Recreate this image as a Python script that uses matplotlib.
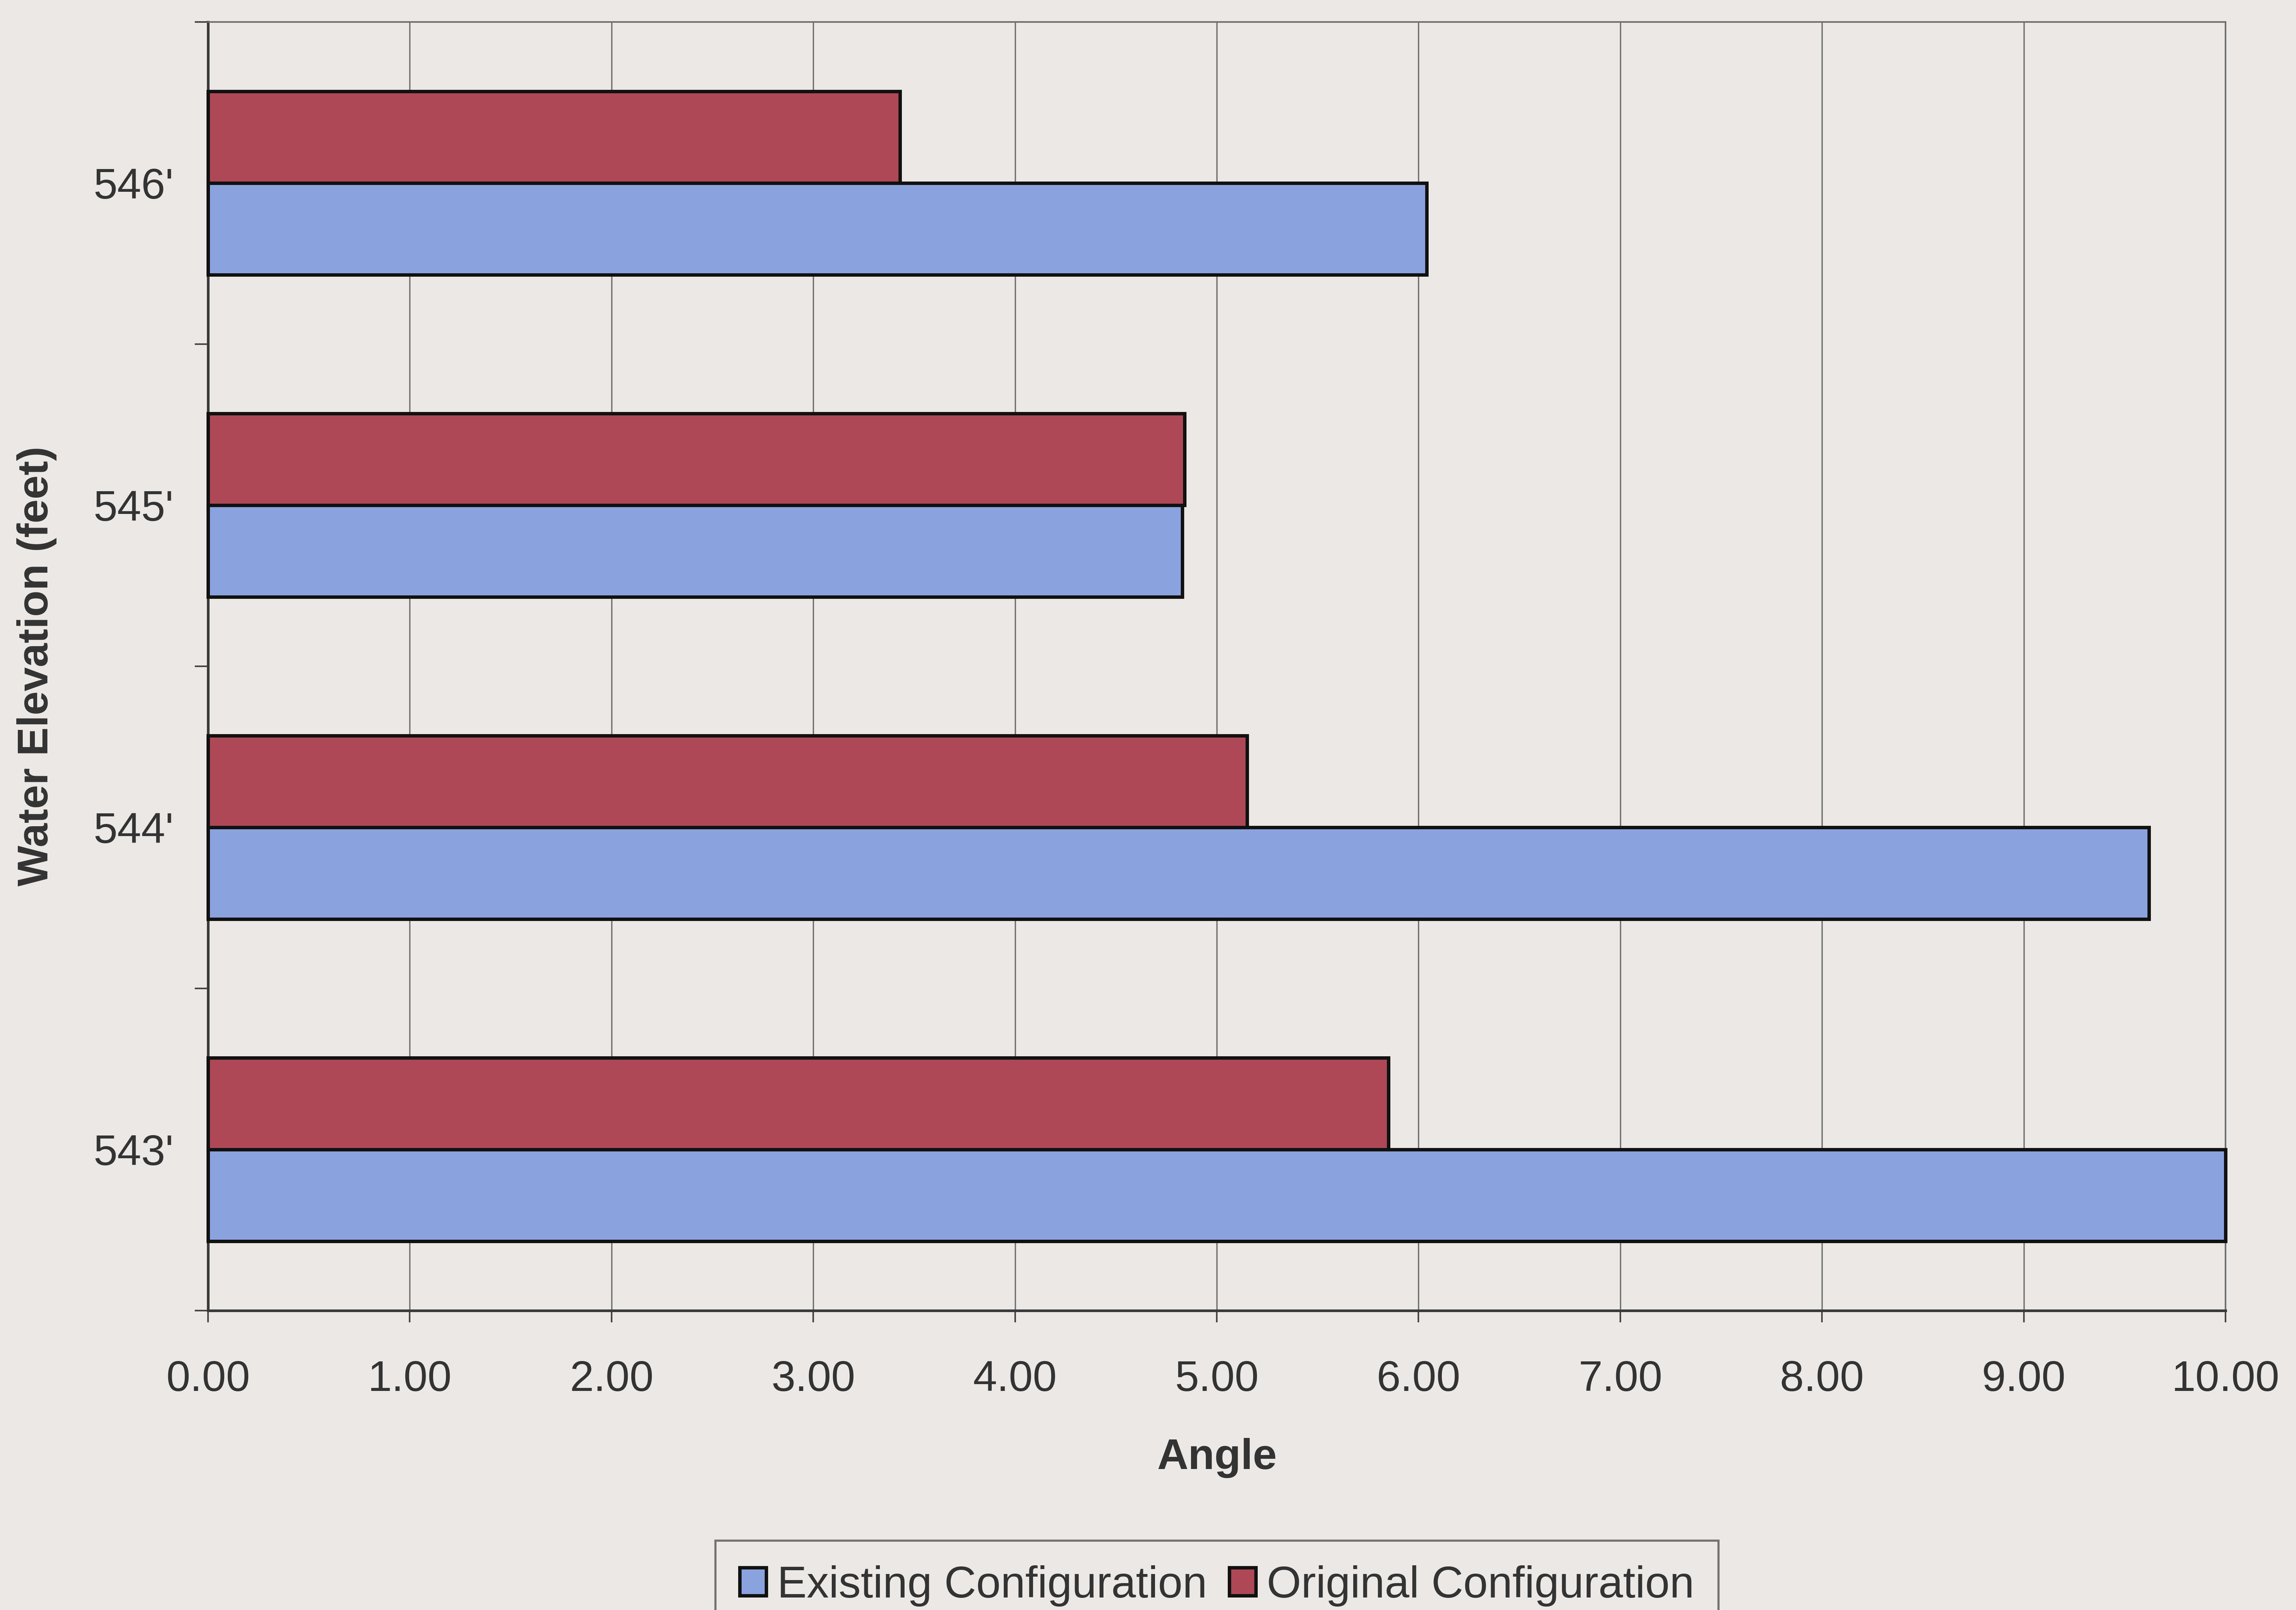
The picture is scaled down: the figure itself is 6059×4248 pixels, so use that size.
import numpy as np
import matplotlib
matplotlib.use("Agg")
import matplotlib.pyplot as plt
from matplotlib.ticker import FixedLocator

# water elevations, bottom to top
elevations = ["543'", "544'", "545'", "546'"]
existing = [10.00, 9.62, 4.83, 6.04]
original = [5.85, 5.15, 4.84, 3.43]
x_ticks = np.arange(0, 11, 1)

BG = "#ebe8e5"
BLUE = "#8aa3df"
RED = "#ae4857"
TXT = "#333333"

plt.rcParams["font.family"] = ["Liberation Sans", "DejaVu Sans"]

fig = plt.figure(figsize=(60.59, 42.48), dpi=100, facecolor=BG)
ax = fig.add_axes([0.0906, 0.186, 0.8787, 0.8004], facecolor=BG)

y = np.arange(len(elevations))
h = 0.285
bars_e = ax.barh(y - h / 2, existing, height=h, color=BLUE, edgecolor="#111111",
                 linewidth=6.5, label="Existing Configuration", zorder=3)
bars_o = ax.barh(y + h / 2, original, height=h, color=RED, edgecolor="#111111",
                 linewidth=6.5, label="Original Configuration", zorder=3)
for b in list(bars_e) + list(bars_o):
    b.set_clip_on(False)

ax.set_xlim(0, 10)
ax.set_ylim(-0.5, len(elevations) - 0.5)

ax.set_xticks(x_ticks)
ax.set_xticklabels([f"{v:.2f}" for v in x_ticks])
ax.set_yticks(y)
ax.set_yticklabels(elevations)
ax.yaxis.set_minor_locator(FixedLocator(np.arange(-0.5, len(elevations), 1.0)))

ax.tick_params(axis="x", which="major", direction="out", length=22, width=3,
               color="#444444", labelsize=82, labelcolor=TXT, pad=72)
ax.tick_params(axis="y", which="major", length=0, labelsize=82, labelcolor=TXT, pad=65)
ax.tick_params(axis="y", which="minor", direction="out", length=25, width=3,
               color="#444444")

ax.grid(axis="x", color="#6e6e6e", linewidth=2.5, zorder=1)
ax.set_axisbelow(True)

for side in ["left", "bottom"]:
    ax.spines[side].set_color("#3a3a3a")
    ax.spines[side].set_linewidth(5)
for side in ["top", "right"]:
    ax.spines[side].set_color("#6e6e6e")
    ax.spines[side].set_linewidth(3)

ax.set_xlabel("Angle", fontsize=82, fontweight="bold", color=TXT, labelpad=72)
ax.set_ylabel("Water Elevation (feet)", fontsize=82, fontweight="bold", color=TXT, labelpad=70)

leg = fig.legend(handles=[bars_e, bars_o], loc="upper center",
                 bbox_to_anchor=(0.53, 0.043), borderaxespad=0, ncol=2, fontsize=84,
                 frameon=True, fancybox=False, handlelength=0.6, handleheight=0.6,
                 handletextpad=0.25, columnspacing=0.5, borderpad=0.55)
leg.get_frame().set_edgecolor("#555555")
leg.get_frame().set_linewidth(4)
leg.get_frame().set_facecolor(BG)
for t in leg.get_texts():
    t.set_color(TXT)

fig.savefig("out.png", dpi=100, facecolor=BG)
